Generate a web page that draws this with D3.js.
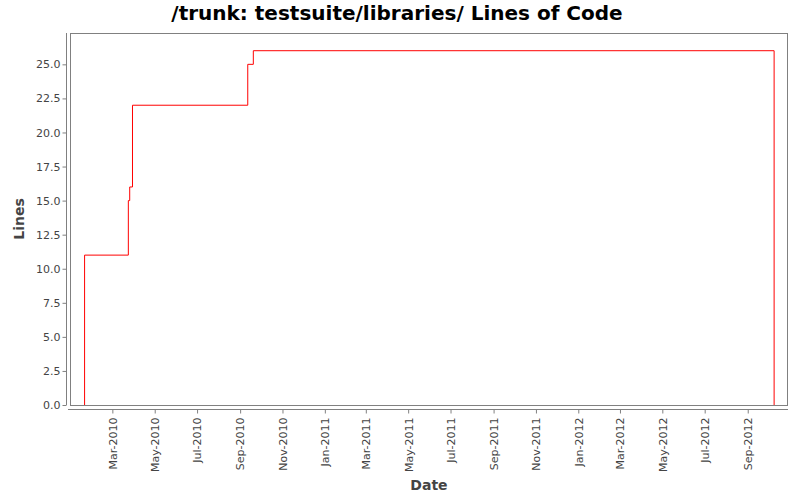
<!DOCTYPE html>
<html><head><meta charset="utf-8">
<script src="https://cdn.jsdelivr.net/npm/d3@7"></script>
<style>body{margin:0;background:#fff;} svg{display:block;}</style>
</head><body>
<svg id="c" width="800" height="500"></svg>
<script>
const dates = ["2010-01-20","2010-01-20","2010-03-24","2010-03-26","2010-03-30","2010-09-12","2010-09-20","2012-10-09","2012-10-09"];
const values = [0, 11, 15, 16, 22, 25, 26, 26, 0];
const tickDates = ["2010-03-01","2010-05-01","2010-07-01","2010-09-01","2010-11-01","2011-01-01","2011-03-01","2011-05-01","2011-07-01","2011-09-01","2011-11-01","2012-01-01","2012-03-01","2012-05-01","2012-07-01","2012-09-01"];
const yTicks = [0,2.5,5,7.5,10,12.5,15,17.5,20,22.5,25];
const domainDates = ["2009-12-30","2012-10-29"];

const parse = d3.utcParse("%Y-%m-%d");
const data = dates.map((d,i)=>({t:parse(d), v:values[i]}));
const svg = d3.select("#c");
const L=70,R=788,T=33,B=405;
const x = d3.scaleUtc().domain(domainDates.map(parse)).range([L,R]);
const y = d3.scaleLinear().domain([0,27.3]).range([B,T]);
const font = "DejaVu Sans, sans-serif";

svg.append("text").attr("x",397).attr("y",20).attr("text-anchor","middle")
  .attr("font-family",font).attr("font-weight","bold").attr("font-size",20).attr("fill","#000")
  .text("/trunk: testsuite/libraries/ Lines of Code");

svg.append("rect").attr("x",L+0.5).attr("y",T+0.5).attr("width",R-L-1).attr("height",B-T)
  .attr("fill","#fff").attr("stroke","#808080").attr("stroke-width",1);

const line = d3.line().x(d=>x(d.t)).y(d=>y(d.v)).curve(d3.curveStepAfter);
svg.append("path").datum(data).attr("d",line).attr("fill","none").attr("stroke","#ff0000").attr("stroke-width",1);

// y axis
const ya = svg.append("g").attr("transform","translate(66.5,0)")
  .call(d3.axisLeft(y).tickValues(yTicks).tickFormat(d3.format(".1f")).tickSize(4).tickSizeOuter(0).tickPadding(2));
ya.select(".domain").attr("stroke","#808080").attr("d",`M0,${T}V${B}`);
ya.selectAll(".tick line").attr("stroke","#808080");
ya.selectAll("text").attr("font-family",font).attr("font-size",11).attr("fill","#444");

// x axis
const xa = svg.append("g").attr("transform","translate(0,409.5)")
  .call(d3.axisBottom(x).tickValues(tickDates.map(parse)).tickFormat(d3.utcFormat("%b-%Y")).tickSize(4).tickSizeOuter(0));
xa.select(".domain").attr("stroke","#808080").attr("d",`M${L-2},0H${R}`);
xa.selectAll(".tick line").attr("stroke","#808080");
xa.selectAll("text").attr("font-family",font).attr("font-size",11).attr("fill","#444")
  .attr("transform","rotate(-90)").attr("text-anchor","end").attr("x",-8).attr("y",0).attr("dy","0.35em");

svg.append("text").attr("x",(L+R)/2).attr("y",490).attr("text-anchor","middle")
  .attr("font-family",font).attr("font-weight","bold").attr("font-size",14).attr("fill","#444").text("Date");
svg.append("text").attr("transform",`translate(24,${(T+B)/2}) rotate(-90)`).attr("text-anchor","middle")
  .attr("font-family",font).attr("font-weight","bold").attr("font-size",14).attr("fill","#444").text("Lines");
</script>
</body></html>
